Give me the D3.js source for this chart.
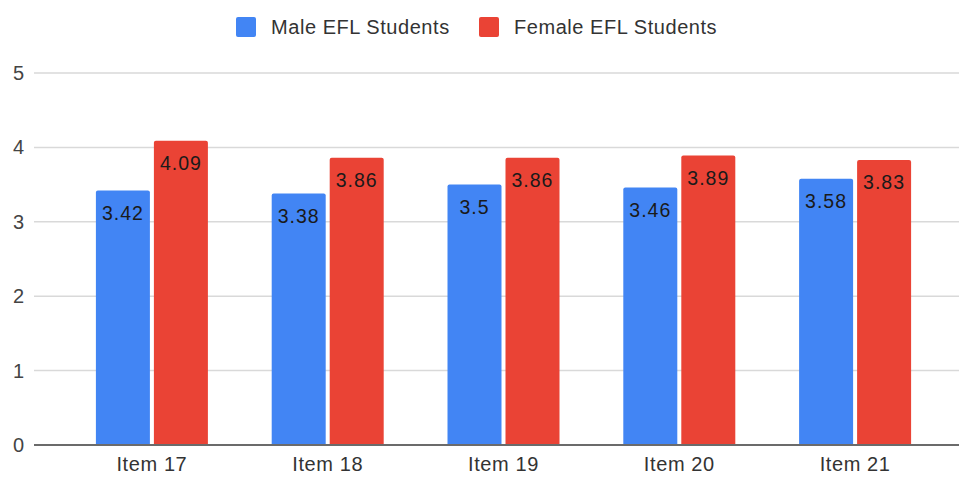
<!DOCTYPE html>
<html><head><meta charset="utf-8">
<script src="https://cdn.jsdelivr.net/npm/d3@7"></script>
<style>body{margin:0;background:#fff}svg{display:block;font-family:"Liberation Sans",Arial,sans-serif}</style>
</head><body><svg id="c" width="959" height="477"></svg>
<script>
const categories = ["Item 17","Item 18","Item 19","Item 20","Item 21"];
const seriesNames = ["Male EFL Students","Female EFL Students"];
const maleValues = [3.42,3.38,3.5,3.46,3.58];
const femaleValues = [4.09,3.86,3.86,3.89,3.83];
const yTicks = [0,1,2,3,4,5];
const colors = ["#4285F4","#EA4335"];

const svg = d3.select("#c");
const gridLeft = 34, gridRight = 959;
const y = d3.scaleLinear().domain([0,5]).range([445,73]);
const x = d3.scaleBand().domain(categories).range([64,943]).paddingInner(0).paddingOuter(0);
const barW = 54, gap = 4;

// gridlines
svg.append("g").selectAll("line").data(yTicks.filter(d=>d>0)).join("line")
  .attr("x1",gridLeft).attr("x2",gridRight)
  .attr("y1",d=>y(d)).attr("y2",d=>y(d))
  .attr("stroke","#d9d9d9").attr("stroke-width",1.5);

// y labels
const yAxis = d3.axisLeft(y).tickValues(yTicks).tickFormat(d3.format("d")).tickSize(0).tickPadding(0);
const ga = svg.append("g").attr("transform","translate(24,0)").call(yAxis);
ga.select(".domain").remove();
ga.selectAll("text").attr("font-size",20).attr("fill","#444").attr("font-family","'Liberation Sans',Arial,sans-serif");

// bars
const data = categories.map((c,i)=>[{c,v:maleValues[i],s:0},{c,v:femaleValues[i],s:1}]).flat();
const gb = svg.append("g");
gb.selectAll("path").data(data).join("path")
  .attr("d",d=>{
    const cx = x(d.c)+x.bandwidth()/2;
    const x0 = d.s===0 ? cx-gap/2-barW : cx+gap/2;
    const y0 = y(d.v), yb = y(0), r=2;
    return `M${x0},${yb}V${y0+r}Q${x0},${y0} ${x0+r},${y0}H${x0+barW-r}Q${x0+barW},${y0} ${x0+barW},${y0+r}V${yb}Z`;
  })
  .attr("fill",d=>colors[d.s]);

gb.selectAll("text").data(data).join("text")
  .attr("x",d=>{const cx=x(d.c)+x.bandwidth()/2; return d.s===0? cx-gap/2-barW/2 : cx+gap/2+barW/2;})
  .attr("y",d=>y(d.v)+29)
  .attr("text-anchor","middle").attr("font-size",19.5).attr("letter-spacing","1px").attr("fill","#1a1a1a")
  .text(d=>d.v);

// baseline
svg.append("line").attr("x1",gridLeft).attr("x2",gridRight).attr("y1",y(0)).attr("y2",y(0))
  .attr("stroke","#6b6b6b").attr("stroke-width",2);

// x axis labels
const xAxis = d3.axisBottom(x).tickSize(0).tickPadding(0);
const gx = svg.append("g").attr("transform","translate(0,457)").call(xAxis);
gx.select(".domain").remove();
gx.selectAll("text").attr("font-size",20).attr("letter-spacing","0.6px").attr("fill","#333").attr("dy","0.71em").attr("font-family","'Liberation Sans',Arial,sans-serif");

// legend
const legX = [236,479];
const lg = svg.append("g");
seriesNames.forEach((n,i)=>{
  lg.append("rect").attr("x",legX[i]).attr("y",17).attr("width",20).attr("height",20).attr("rx",2).attr("fill",colors[i]);
  lg.append("text").attr("x",legX[i]+35).attr("y",34).attr("font-size",20).attr("letter-spacing","0.55px").attr("fill","#333").text(n);
});
</script></body></html>
